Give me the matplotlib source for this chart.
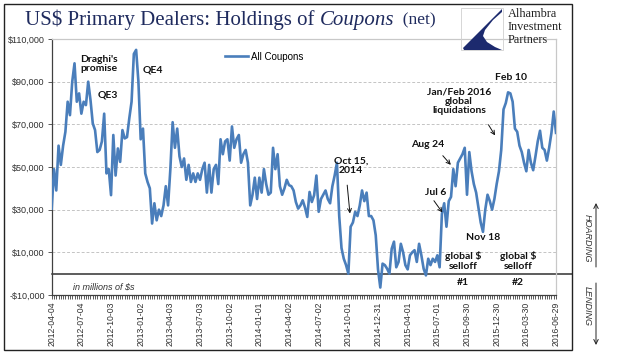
import matplotlib
matplotlib.use('Agg')
import matplotlib.pyplot as plt
from matplotlib.patches import Polygon, Rectangle, FancyArrowPatch
import numpy as np
import pandas as pd

W, H = 640, 358

# weekly net holdings of coupons, in $ billions
holdings_bn = [
    30.5, 49, 39, 60, 51, 60, 66.5, 80.6, 74.3, 90, 98.6, 80.6, 84.5, 75, 80.6, 79, 90, 81.4, 70.4, 67.3,
    57, 58, 62, 75, 47, 49, 36.8, 65, 46, 58.7, 52.4, 67.3, 63.4, 64, 72.8, 80.6, 103, 104.9, 90,
    63, 68, 47, 43, 40, 23.5, 33, 25, 30, 27, 32, 41, 32, 49, 71, 59, 68, 55, 50, 54,
    44, 51, 43, 47, 43, 47, 44, 49, 52, 38, 51, 38, 49, 51, 42, 63, 56, 62, 63, 53,
    69, 59, 63, 65, 52, 56, 58, 52, 32, 37, 45, 35, 45, 38, 49, 42, 37, 38, 59, 49,
    56, 41, 37, 40, 44, 41.5, 41, 39, 33.6, 30.5, 32, 34.4, 31, 26.6, 38.3, 33.6, 36.8, 46, 29,
    35, 37, 39, 35, 33, 41, 46, 52, 27, 12, 7, 4, 0, 22, 24, 29, 27, 32, 39, 34,
    38, 27, 27, 25, 18, 2, -6.5, 4.7, 4, 2.3, 0, 11.7, 15, 3, 5.5, 14, 10, 4, 2,
    8.6, 10, 11, 5.5, 14, 8.6, 2.3, -0.8, 7, 4, 7, 5.5, 8.6, 3, 28, 33, 22, 34, 36, 49,
    41, 52, 54, 56, 59, 37, 57, 48, 42, 38, 31, 24, 19.6, 30, 37, 34, 30, 35, 42, 48,
    58, 77, 80, 85, 84.5, 80.6, 68, 66.5, 60, 57, 52, 48, 58, 52, 48.5, 55, 62, 67, 59, 58,
    53, 59, 66, 76, 66,
]
start_date = '2012-04-04'
series_name = 'All Coupons'
ytick_vals = [-10000, 10000, 30000, 50000, 70000, 90000, 110000]

holdings = np.array(holdings_bn) * 1000  # -> $ millions
n = len(holdings)
dates = pd.date_range(start_date, periods=n, freq='7D')
x = np.arange(n)


def fx(px):
    return px / W


def fy(py):
    return 1 - py / H


def money(v):
    s = f"${abs(v):,.0f}"
    return "-" + s if v < 0 else s


fig = plt.figure(figsize=(W / 100, H / 100), dpi=100)
fig.patch.set_facecolor('white')

left, right, top, bottom = 51.7, 556, 39, 295
ax = fig.add_axes([fx(left), fy(bottom), (right - left) / W, (bottom - top) / H])

ax.plot(x, holdings, color='#4a7ebb', lw=1.9, label=series_name, solid_joinstyle='round', zorder=3)

ax.set_xlim(0, n - 1)
ax.set_ylim(-10000, 110000)
ax.set_yticks(ytick_vals)
ax.set_yticklabels([money(v) for v in ytick_vals])
ax.set_xticks(x[::13])
ax.set_xticklabels(dates[::13].strftime('%Y-%m-%d'), rotation=90)
ax.set_xticks(x, minor=True)

for lab in ax.get_xticklabels() + ax.get_yticklabels():
    lab.set_family('Liberation Sans')
    lab.set_color('#303030')
ax.tick_params(axis='x', which='both', direction='out', length=3, width=0.6,
               color='#404040', labelsize=6.2, pad=1.5)
ax.tick_params(axis='y', direction='out', length=3, width=0.6, color='#404040',
               labelsize=6.5, pad=2)

for v in [10000, 30000, 50000, 70000, 90000]:
    ax.axhline(v, color='#c4c4c4', lw=0.7, ls=(0, (3, 2)), zorder=1)

for s in ['left', 'bottom']:
    ax.spines[s].set_color('#404040')
    ax.spines[s].set_linewidth(0.9)
for s in ['top', 'right']:
    ax.spines[s].set_color('#c8c8c8')
    ax.spines[s].set_linewidth(0.9)

# zero line runs out to the frame
ax.axhline(0, xmin=0, xmax=(572 - left) / (right - left), color='#303030', lw=1.1,
           clip_on=False, zorder=2)

ax.legend(loc='center left', bbox_to_anchor=(0.343, 0.931), handlelength=2.4,
          handletextpad=0.3, borderaxespad=0, borderpad=0, frameon=False,
          prop={'family': 'Liberation Sans', 'size': 7})

bold = dict(ha='center', va='center', fontweight='bold', fontsize=7.5,
            family=['Lato', 'DejaVu Sans'], color='#111111', linespacing=1.05)
ax.text(20.6, 98200, "Draghi's\npromise", **bold)
ax.text(24.6, 83900, "QE3", **bold)
ax.text(44.5, 95700, "QE4", **bold)
ax.text(131.1, 50500, "Oct 15,\n2014", **bold)
ax.text(164.9, 60400, "Aug 24", **bold)
ax.text(168.4, 38100, "Jul 6", **bold)
ax.text(178.5, 80800, "Jan/Feb 2016\nglobal\nliquidations", **bold)
ax.text(201.3, 92000, "Feb 10", **bold)
ax.text(189.0, 16800, "Nov 18", **bold)
ax.text(180.3, 5900, "global $\nselloff", **bold)
ax.text(180.3, -4200, "#1", **bold)
ax.text(204.4, 5900, "global $\nselloff", **bold)
ax.text(204.4, -4200, "#2", **bold)
ax.text(9.2, -6300, "in millions of $s", ha='left', va='center', fontsize=6.5,
        style='italic', family='Liberation Sans', color='#303030')

arrow = dict(arrowstyle='->', lw=0.7, color='#111111', shrinkA=0, shrinkB=0,
             mutation_scale=7)
ax.annotate('', xy=(130.7, 28200), xytext=(129.5, 41500), arrowprops=arrow)
ax.annotate('', xy=(174.9, 51000), xytext=(171.4, 55300), arrowprops=arrow)
ax.annotate('', xy=(171.2, 28700), xytext=(167.5, 34200), arrowprops=arrow)
ax.annotate('', xy=(194.3, 64800), xytext=(191.4, 69800), arrowprops=arrow)

# title, with the italic word
renderer = fig.canvas.get_renderer()
navy = '#1f2b5e'
pieces = [("US$ Primary Dealers: Holdings of ", 'normal', 15),
          ("Coupons", 'italic', 15),
          ("  (net)", 'normal', 12.5)]
cur = fx(25)
for txt, st, sz in pieces:
    t = fig.text(cur, fy(20), txt, ha='left', va='center', fontsize=sz, style=st,
                 family='Liberation Serif', color=navy)
    bb = t.get_window_extent(renderer=renderer)
    cur = bb.x1 / W

# logo
fig.patches.append(Rectangle((fx(461), fy(50)), 42 / W, 42 / H, transform=fig.transFigure,
                             fill=False, edgecolor='#d0d0d0', lw=0.6))
logo_pts = [(41, 1), (2, 40), (3, 42), (41, 42),
            (34, 39), (26, 34), (22, 28), (24, 22), (32, 12), (41, 4)]
fig.patches.append(Polygon([(fx(461 + a), fy(8 + b)) for a, b in logo_pts],
                           closed=True, transform=fig.transFigure,
                           facecolor='#1c2a6e', edgecolor='none'))
for i, word in enumerate(['Alhambra', 'Investment', 'Partners']):
    fig.text(fx(508), fy(14 + 13 * i), word, ha='left', va='center', fontsize=8.8,
             family='Liberation Serif', color='#222222')

# frame around the chart
fig.patches.append(Rectangle((fx(4), fy(350)), 568 / W, 346 / H, transform=fig.transFigure,
                             fill=False, edgecolor='#222222', lw=1.0))

# hoarding / lending side labels
fig.text(fx(587), fy(238), 'HOARDING', rotation=-90, ha='center', va='center',
         fontsize=6.5, style='italic', family='Liberation Sans', color='#333333')
fig.text(fx(587), fy(306), 'LENDING', rotation=-90, ha='center', va='center',
         fontsize=6.5, style='italic', family='Liberation Sans', color='#333333')
side = dict(arrowstyle='->', lw=0.7, color='#222222', mutation_scale=8,
            shrinkA=0, shrinkB=0)
fig.add_artist(FancyArrowPatch((fx(596), fy(267)), (fx(596), fy(203)),
                               transform=fig.transFigure, **side))
fig.add_artist(FancyArrowPatch((fx(596), fy(283)), (fx(596), fy(345)),
                               transform=fig.transFigure, **side))

fig.savefig('out.png', dpi=100)
